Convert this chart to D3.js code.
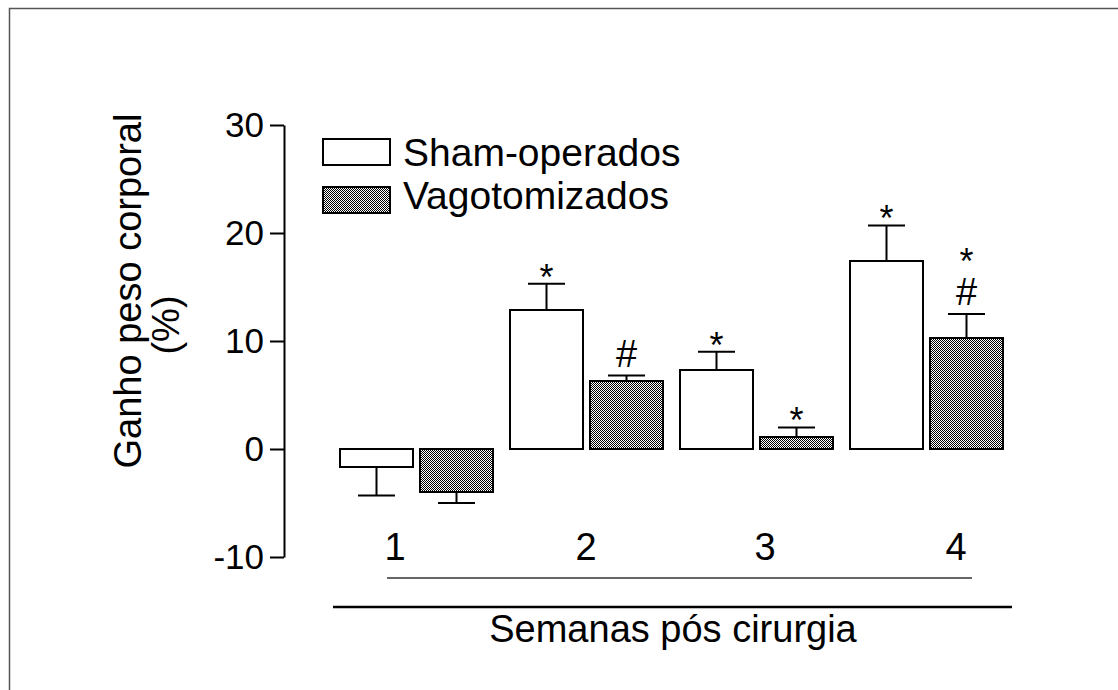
<!DOCTYPE html>
<html lang="pt">
<head>
  <meta charset="UTF-8">
  <title>Ganho peso corporal</title>
  <script src="https://cdn.jsdelivr.net/npm/d3@7"></script>
  <style>
    body { margin: 0; background: #fff; }
    text { font-family: "Liberation Sans", Arial, sans-serif; fill: #000; }
  </style>
</head>
<body>
<script>
  // dados
  const weeks = ["1", "2", "3", "4"];
  const series = ["Sham-operados", "Vagotomizados"];
  const shamMean = [-1.7, 12.9, 7.3, 17.4];
  const shamSem = [2.6, 2.4, 1.7, 3.3];
  const vagoMean = [-4.0, 6.3, 1.1, 10.3];
  const vagoSem = [1.0, 0.5, 0.9, 2.2];
  const shamMarks = [[], ["*"], ["*"], ["*"]];
  const vagoMarks = [[], ["#"], ["*"], ["#", "*"]];
  const yTicks = [-10, 0, 10, 20, 30];

  const width = 1118, height = 690;
  const labelShift = [-21, 0, 9, 30]; // deslocamento dos rótulos 1..4

  const svg = d3.select("body").append("svg")
    .attr("width", width)
    .attr("height", height);

  // padrão pontilhado das barras cinzas
  const pat = svg.append("defs").append("pattern")
    .attr("id", "dots")
    .attr("width", 2).attr("height", 2)
    .attr("patternUnits", "userSpaceOnUse");
  pat.append("rect").attr("width", 2).attr("height", 2).attr("fill", "#fff");
  pat.append("rect").attr("width", 1).attr("height", 1).attr("fill", "#000");
  pat.append("rect").attr("x", 1).attr("y", 1).attr("width", 1).attr("height", 1).attr("fill", "#000");

  // moldura
  svg.append("path")
    .attr("d", "M9.5," + height + "V8.5H" + width)
    .attr("fill", "none")
    .attr("stroke", "#555")
    .attr("stroke-width", 1.5);

  const y = d3.scaleLinear().domain([-10, 30]).range([557, 125]);
  const x = d3.scaleBand().domain(weeks)
    .range([331, 1011])
    .paddingInner(18 / 170)
    .paddingOuter(9 / 170);
  const xs = d3.scaleBand().domain(series)
    .range([0, x.bandwidth()])
    .paddingInner(7 / 79.5);

  // eixo y
  const yAxis = svg.append("g")
    .attr("transform", "translate(284,0)")
    .call(d3.axisLeft(y).tickValues(yTicks).tickFormat(d => String(d))
      .tickSize(14).tickSizeOuter(0).tickPadding(6));
  yAxis.selectAll("path, line").attr("stroke", "#000").attr("stroke-width", 2);
  yAxis.selectAll("text")
    .style("font-family", "'Liberation Sans', Arial, sans-serif")
    .attr("font-size", 35)
    .attr("fill", "#000");

  svg.append("text")
    .attr("transform", "translate(141,291) rotate(-90)")
    .attr("text-anchor", "middle")
    .attr("font-size", 38)
    .text("Ganho peso corporal");
  svg.append("text")
    .attr("transform", "translate(179,325) rotate(-90)")
    .attr("text-anchor", "middle")
    .attr("font-size", 38)
    .text("(%)");

  // barras
  const data = [];
  weeks.forEach((w, i) => {
    data.push({ week: w, s: series[0], v: shamMean[i], e: shamSem[i], marks: shamMarks[i] });
    data.push({ week: w, s: series[1], v: vagoMean[i], e: vagoSem[i], marks: vagoMarks[i] });
  });
  const fillOf = s => s === series[0] ? "#fff" : "url(#dots)";

  const bars = svg.append("g").selectAll("g")
    .data(data)
    .enter()
    .append("g")
    .attr("transform", d => "translate(" + Math.round(x(d.week) + xs(d.s)) + ",0)");

  const bw = Math.round(xs.bandwidth());
  const capHalf = 18.5;

  // barras de erro
  bars.append("path")
    .attr("d", d => {
      const cx = bw / 2;
      const tip = d.v >= 0 ? d.v + d.e : d.v - d.e;
      return "M" + cx + "," + y(d.v) + "V" + y(tip) +
        "M" + (cx - capHalf) + "," + y(tip) + "H" + (cx + capHalf);
    })
    .attr("fill", "none")
    .attr("stroke", "#000")
    .attr("stroke-width", 2);

  bars.append("rect")
    .attr("x", 0)
    .attr("width", bw)
    .attr("y", d => Math.round(y(Math.max(0, d.v))))
    .attr("height", d => Math.round(Math.abs(y(d.v) - y(0))))
    .attr("fill", d => fillOf(d.s))
    .attr("stroke", "#000")
    .attr("stroke-width", 2);

  // marcas de significância
  bars.each(function (d) {
    const g = d3.select(this);
    const capY = y(d.v + d.e);
    let base = capY;
    d.marks.forEach((m, k) => {
      let by;
      if (k === 0) by = m === "#" ? capY - 9 : capY + 6;
      else by = base - 31;
      g.append("text")
        .attr("x", bw / 2)
        .attr("y", by)
        .attr("text-anchor", "middle")
        .attr("font-size", m === "#" ? 38 : 36)
        .text(m);
      base = by;
    });
  });

  // rótulos das semanas
  svg.append("g").selectAll("text")
    .data(weeks)
    .enter()
    .append("text")
    .attr("x", (d, i) => x(d) + x.bandwidth() / 2 + labelShift[i])
    .attr("y", 560)
    .attr("text-anchor", "middle")
    .attr("font-size", 38)
    .text(d => d);

  svg.append("line")
    .attr("x1", 387).attr("x2", 972)
    .attr("y1", 578).attr("y2", 578)
    .attr("stroke", "#333").attr("stroke-width", 1.5);
  svg.append("line")
    .attr("x1", 333).attr("x2", 1012)
    .attr("y1", 607).attr("y2", 607)
    .attr("stroke", "#000").attr("stroke-width", 2.5);

  svg.append("text")
    .attr("x", 673)
    .attr("y", 642)
    .attr("text-anchor", "middle")
    .attr("font-size", 38)
    .text("Semanas pós cirurgia");

  // legenda
  const legend = svg.append("g").selectAll("g")
    .data(series)
    .enter()
    .append("g")
    .attr("transform", (d, i) => "translate(323," + (139 + i * 48) + ")");
  legend.append("rect")
    .attr("width", 67).attr("height", 26)
    .attr("fill", d => fillOf(d))
    .attr("stroke", "#000")
    .attr("stroke-width", 2);
  legend.append("text")
    .attr("x", 80)
    .attr("y", (d, i) => i === 0 ? 27 : 22)
    .attr("font-size", 39)
    .text(d => d);
</script>
</body>
</html>
